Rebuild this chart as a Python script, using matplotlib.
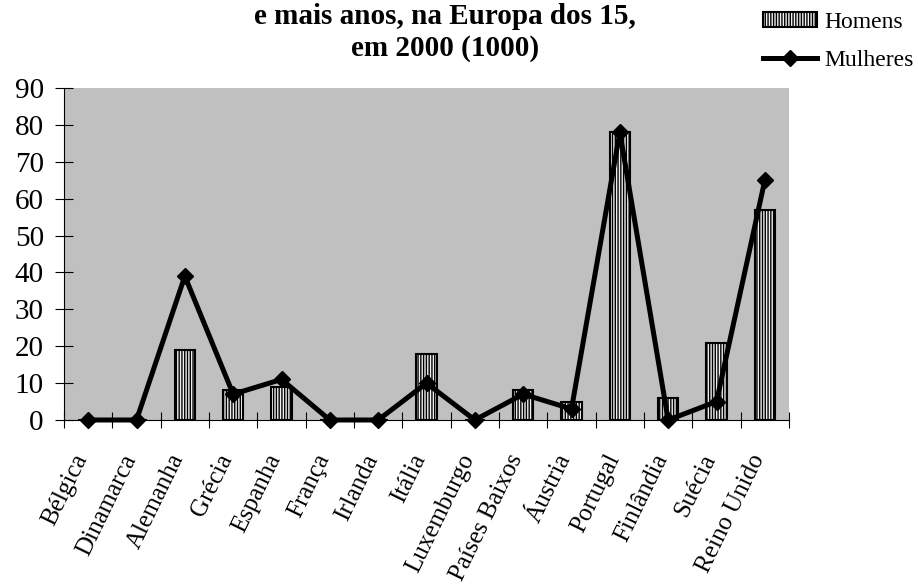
import numpy as np
import matplotlib
matplotlib.use("Agg")
import matplotlib.pyplot as plt
import matplotlib.transforms as mtransforms
from matplotlib.patches import Patch
from matplotlib.lines import Line2D

# ============ DADOS ============
paises = ["Bélgica", "Dinamarca", "Alemanha", "Grécia", "Espanha", "França",
          "Irlanda", "Itália", "Luxemburgo", "Países Baixos", "Áustria",
          "Portugal", "Finlândia", "Suécia", "Reino Unido"]
homens = [0, 0, 19, 8, 9, 0, 0, 18, 0, 8, 5, 78, 6, 21, 57]
mulheres = [0, 0, 39, 7, 11, 0, 0, 10, 0, 7, 3, 78, 0, 5, 65]
y_ticks = list(range(0, 100, 10))
titulo = "e mais anos, na Europa dos 15,\nem 2000 (1000)"
# ===============================

plt.rcParams["font.family"] = ["Liberation Serif", "DejaVu Serif"]
plt.rcParams["hatch.linewidth"] = 1.0

fig = plt.figure(figsize=(9.18, 5.84), dpi=100)
ax = fig.add_axes([64 / 918, 1 - 420 / 584, 725 / 918, 332 / 584])
ax.set_facecolor("#c0c0c0")

x = np.arange(len(paises))
ax.bar(x, homens, width=0.42, color="#f0f0f0", edgecolor="black",
       linewidth=1.5, hatch="||||||", zorder=2)
ax.plot(x, mulheres, color="black", linewidth=3.6, marker="D",
        markersize=8.5, zorder=3, clip_on=False)

ax.set_xlim(-0.5, len(paises) - 0.5)
ax.set_ylim(0, 90)
ax.set_yticks(y_ticks)
ax.tick_params(axis="y", direction="inout", length=13, width=0.8,
               labelsize=21, pad=8)

# rotulos no centro das categorias, tracos nas divisorias
ax.set_xticks(x)
ax.set_xticklabels(paises, rotation=64, ha="right", va="top")
ax.tick_params(axis="x", which="major", length=0, labelsize=18, pad=22)
ax.set_xticks(np.arange(-0.5, len(paises), 1), minor=True)
ax.tick_params(axis="x", which="minor", direction="inout", length=12, width=0.8)
desloc = mtransforms.ScaledTranslation(4 / 100, 0, fig.dpi_scale_trans)
for lbl in ax.get_xticklabels():
    lbl.set_transform(lbl.get_transform() + desloc)

for s in ["top", "right"]:
    ax.spines[s].set_visible(False)
for s in ["left", "bottom"]:
    ax.spines[s].set_linewidth(0.8)

fig.text(445 / 918, 1 - 3 / 584, titulo, ha="center", va="top",
         fontsize=21, fontweight="bold", multialignment="center",
         linespacing=1.2)

handles = [Patch(facecolor="#f0f0f0", edgecolor="black", hatch="||||||", linewidth=1.5),
           Line2D([], [], color="black", linewidth=3.6, marker="D", markersize=8.5)]
fig.legend(handles, ["Homens", "Mulheres"], loc="upper left",
           bbox_to_anchor=(763 / 918, 1 - 12 / 584), frameon=False,
           fontsize=17, handlelength=2.3, handleheight=0.6, handletextpad=0.3,
           labelspacing=0.7, borderpad=0, borderaxespad=0)

plt.savefig("out.png", dpi=100)
